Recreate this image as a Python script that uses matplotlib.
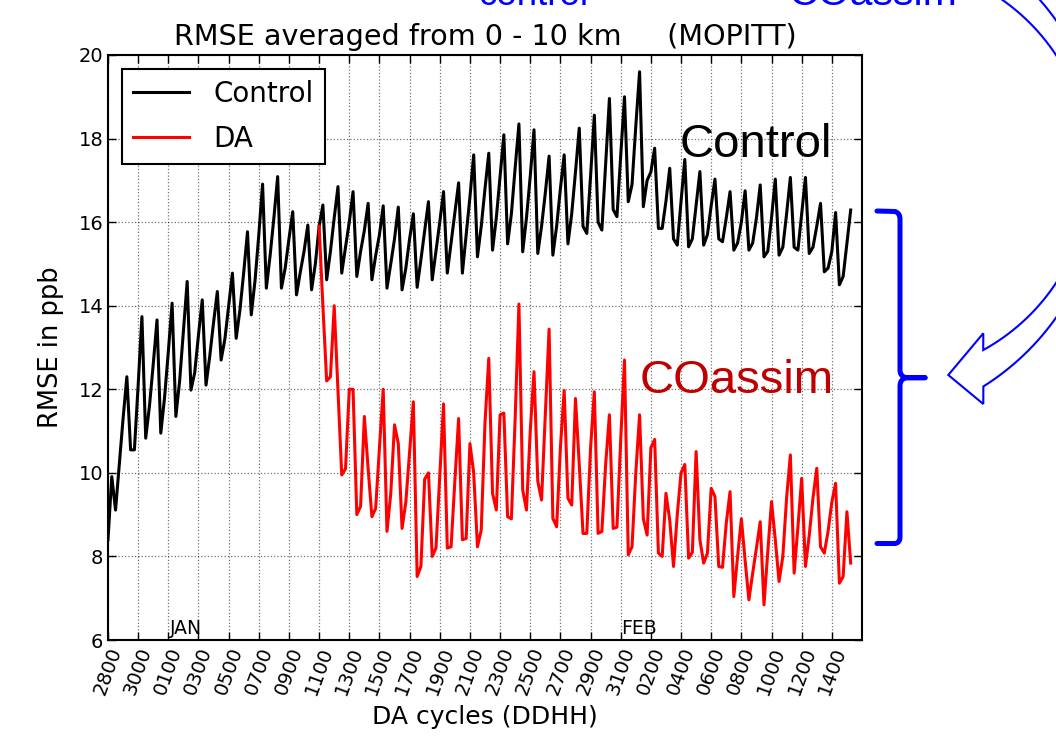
import matplotlib
matplotlib.use("Agg")
import matplotlib.pyplot as plt
from matplotlib.path import Path
from matplotlib.patches import PathPatch
import numpy as np

# DA cycle labels (DDHH), one every 2 days = 8 six-hourly cycles
tick_labels = ["2800", "3000", "0100", "0300", "0500", "0700", "0900",
               "1100", "1300", "1500", "1700", "1900", "2100", "2300",
               "2500", "2700", "2900", "3100", "0200", "0400", "0600",
               "0800", "1000", "1200", "1400"]

# RMSE (ppb), 6-hourly cycles from 28 Dec 00Z; one row per day (00, 06, 12, 18Z)
control = [
    8.4, 9.91, 9.11, 10.2,
    11.3, 12.30, 10.55, 10.55,
    12.1, 13.74, 10.83, 11.6,
    12.6, 13.66, 10.95, 11.8,
    12.9, 14.06, 11.35, 12.2,
    13.4, 14.58, 11.98, 12.4,
    13.3, 14.14, 12.10, 12.8,
    13.6, 14.34, 12.70, 13.2,
    14.0, 14.78, 13.22, 13.9,
    14.8, 15.77, 13.78, 14.6,
    15.7, 16.91, 14.42, 15.2,
    16.1, 17.09, 14.42, 14.9,
    15.6, 16.25, 14.26, 14.8,
    15.3, 15.93, 14.38, 15.0,
    15.9, 16.41, 14.62, 15.3,
    16.1, 16.85, 14.78, 15.4,
    16.0, 16.73, 14.70, 15.3,
    15.8, 16.45, 14.62, 15.2,
    15.7, 16.39, 14.42, 15.0,
    15.6, 16.36, 14.38, 14.9,
    15.6, 16.20, 14.44, 15.1,
    15.8, 16.49, 14.62, 15.3,
    16.0, 16.73, 14.78, 15.5,
    16.2, 16.94, 14.78, 15.7,
    16.6, 17.61, 15.17, 15.9,
    16.8, 17.65, 15.33, 16.1,
    17.1, 18.09, 15.48, 16.2,
    17.3, 18.35, 15.29, 16.1,
    17.1, 18.21, 15.25, 15.9,
    16.7, 17.58, 15.21, 15.9,
    16.8, 17.61, 15.48, 16.2,
    17.2, 18.25, 15.90, 15.73,
    17.1, 18.56, 16.00, 15.81,
    17.4, 18.96, 16.30, 16.13,
    17.6, 19.00, 16.49, 16.9,
    18.3, 19.60, 16.37, 17.0,
    17.2, 17.77, 15.85, 15.85,
    16.5, 17.29, 15.60, 15.45,
    16.5, 17.50, 15.41, 15.6,
    16.4, 17.21, 15.45, 15.7,
    16.4, 17.03, 15.60, 15.53,
    16.1, 16.73, 15.33, 15.5,
    16.0, 16.75, 15.33, 15.5,
    16.1, 16.89, 15.17, 15.3,
    16.1, 17.03, 15.21, 15.4,
    16.2, 17.07, 15.40, 15.33,
    16.2, 17.07, 15.25, 15.4,
    15.9, 16.45, 14.81, 14.9,
    15.3, 16.23, 14.50, 14.7,
    15.5, 16.29,
]

# DA run starts at 11 Jan 00Z (cycle 56)
da_start = 56
da = [
    15.9, 14.0, 12.2, 12.3,
    14.0, 12.0, 9.95, 10.1,
    12.0, 12.0, 9.0, 9.2,
    11.35, 10.1, 8.95, 9.15,
    10.6, 12.0, 8.6, 9.5,
    11.15, 10.7, 8.67, 9.3,
    10.5, 11.7, 7.52, 7.76,
    9.85, 10.0, 8.0, 8.2,
    9.9, 11.65, 8.2, 8.23,
    9.8, 11.3, 8.4, 8.43,
    10.7, 10.0, 8.23, 8.63,
    11.2, 12.74, 9.51, 9.11,
    11.39, 11.43, 8.95, 8.9,
    11.3, 14.04, 9.59, 9.11,
    11.0, 12.42, 9.8, 9.35,
    11.4, 13.44, 8.91, 8.71,
    10.6, 11.97, 9.39, 9.23,
    11.78, 10.2, 8.55, 8.55,
    10.6, 11.94, 8.55, 8.6,
    10.2, 11.39, 8.67, 8.7,
    10.8, 12.70, 8.04, 8.23,
    10.0, 11.39, 8.9, 8.51,
    10.6, 10.8, 8.08, 8.0,
    9.51, 8.87, 7.76, 9.0,
    10.0, 10.2, 7.96, 8.1,
    10.51, 8.4, 7.84, 8.08,
    9.63, 9.43, 7.76, 7.74,
    8.8, 9.55, 7.04, 8.0,
    8.9, 7.9, 6.96, 7.6,
    8.2, 8.83, 6.84, 8.1,
    9.31, 8.4, 7.40, 8.0,
    9.4, 10.43, 7.6, 8.7,
    9.87, 7.76, 8.5, 9.4,
    10.11, 8.23, 8.08, 8.6,
    9.3, 9.75, 7.36, 7.52,
    9.07, 7.84,
]

W, H = 1056, 739
fig = plt.figure(figsize=(W / 100, H / 100), dpi=100)
ax = fig.add_axes([108 / W, 1 - 640 / H, 754 / W, 585 / H])

x_ctrl = np.arange(len(control))
x_da = np.arange(da_start, da_start + len(da))
ax.plot(x_ctrl, control, color="k", lw=2.2, label="Control")
ax.plot(x_da, da, color="r", lw=2.2, label="DA")

ax.set_xlim(0, 200)
ax.set_ylim(6, 20)
ax.set_yticks(np.arange(6, 21, 2))
ax.set_xticks(np.arange(len(tick_labels)) * 8)
ax.set_xticklabels(tick_labels, rotation=70, fontsize=14)
ax.tick_params(direction="in", top=True, right=True, length=6, width=1,
               labelsize=14)
ax.grid(True, linestyle=":", color="k", lw=0.9, alpha=0.55)
for sp in ax.spines.values():
    sp.set_linewidth(1.5)

ax.set_xlabel("DA cycles (DDHH)", fontsize=18, labelpad=5)
ax.set_ylabel("RMSE in ppb", fontsize=18.5, labelpad=10)
ax.set_title("RMSE averaged from 0 - 10 km     (MOPITT)", fontsize=20.6,
             pad=7)

leg = ax.legend(loc="upper left", fontsize=20, fancybox=False,
                edgecolor="k", framealpha=1, handlelength=2,
                handletextpad=0.9, borderpad=0.4, labelspacing=0.6)
leg.get_frame().set_linewidth(1.5)

ax.text(16.5, 6.15, "JAN", fontsize=13.5)
ax.text(136, 6.15, "FEB", fontsize=13.5)

# slide overlays
sans = ["Liberation Sans", "DejaVu Sans"]
fig.text(680 / W, 1 - 157 / H, "Control", fontsize=34, family=sans,
         color="k")
fig.text(640 / W, 1 - 393 / H, "COassim", fontsize=34, family=sans,
         color="#c00000")
fig.text(479 / W, 1 - 5 / H, "control", fontsize=26.5, family=sans,
         color="#0000ff")
fig.text(789 / W, 1 - 5 / H, "COassim", fontsize=29.5, family=sans,
         color="#0000ff")


def px(pts):
    return [(x / W, 1 - y / H) for x, y in pts]


# bracket
br = [(877, 211), (895, 211.5), (900, 213), (900, 219), (900, 370),
      (900, 377), (907, 377.7), (925, 377.7), (907, 377.7), (900, 378.5),
      (900, 386), (900, 537), (900, 543), (895, 543.5), (877, 543.5)]
codes = [Path.MOVETO, Path.LINETO, Path.CURVE3, Path.CURVE3, Path.LINETO,
         Path.CURVE3, Path.CURVE3, Path.LINETO, Path.LINETO, Path.CURVE3,
         Path.CURVE3, Path.LINETO, Path.CURVE3, Path.CURVE3, Path.LINETO]
fig.patches.append(PathPatch(Path(px(br), codes), transform=fig.transFigure,
                             fill=False, edgecolor="#0000ff", lw=3.6,
                             capstyle="round", joinstyle="round"))

# curved hollow arrow
t_in = np.radians(np.linspace(-70, 61.2, 80))
inner = [(883.7 + 206.6 * np.cos(t), 169 + 206.6 * np.sin(t)) for t in t_in]
t_out = np.radians(np.linspace(57.8, -55, 80))
outer = [(846.4 + 257 * np.cos(t), 169 + 257 * np.sin(t)) for t in t_out]
head = [(983.3, 333.3), (948.3, 375), (983.3, 404)]
arrow = inner + head + outer
fig.patches.append(PathPatch(Path(px(arrow)), transform=fig.transFigure,
                             fill=False, edgecolor="#0000ff", lw=1.5))

fig.savefig("out.png", dpi=100)
